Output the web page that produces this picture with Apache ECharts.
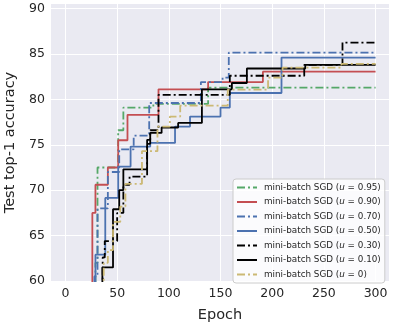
<!DOCTYPE html>
<html>
<head>
<meta charset="utf-8">
<script src="https://cdn.jsdelivr.net/npm/echarts@6/dist/echarts.min.js"></script>
<style>
  html, body { margin:0; padding:0; background:#fff; }
  #chart { width:394px; height:327px; }
</style>
</head>
<body>
<div id="chart"></div>
<script>
// u values, legend order
const uValues = ['0.95', '0.90', '0.70', '0.50', '0.30', '0.10', '0'];
const xTicks = [0, 50, 100, 150, 200, 250, 300];
const yTicks = [60, 65, 70, 75, 80, 85, 90];

// [epoch, best test top-1 accuracy] step points
const accU95 = [[1,40],[29,62],[31,72.5],[51,76.6],[56,79.1],[85,79.5],[138,81.3],[300,81.3]];
const accU90 = [[1,40],[26,67.5],[29,70.6],[41,72.5],[51,75.5],[60,78.3],[90,81.1],[138,81.9],[191,83.05],[300,83.05]];
const accU70 = [[1,40],[28,60.5],[31,68],[41,72],[52,74.5],[66,76],[81,79.6],[131,81.9],[152,82.4],[158,85.15],[300,85.15]];
const accU50 = [[1,40],[29,62.9],[38.5,69.15],[51,72.6],[63,74.8],[82,75.2],[106,77],[120.5,78.1],[150,79.1],[159,80.7],[209,84.6],[300,84.6]];
const accU30 = [[1,40],[36,62.6],[38,64.4],[50,67.5],[56,70.6],[62,71.5],[79,75.1],[82,76.6],[90,80.5],[159,82.6],[231,83.8],[268,86.25],[300,86.25]];
const accU10 = [[1,40],[35.7,61.5],[46,67.9],[52,70],[56,72.3],[79,75.55],[82,76.3],[93,76.9],[109,77.4],[132,81.1],[161,81.8],[175.5,83.4],[232,83.8],[300,83.8]];
const accU0  = [[1,40],[37,62],[41,63.4],[46,66.5],[53,68.2],[58,70.7],[74,74.3],[89,77],[101,78.1],[111,79.3],[157,81.07],[196,82.4],[210,83.5],[267,83.9],[300,83.9]];

const seriesData = [accU95, accU90, accU70, accU50, accU30, accU10, accU0];
const colors = ['#55A868', '#C44E52', '#4C72B0', '#4C72B0', '#000000', '#000000', '#CCB974'];
const dashed = [true, false, true, false, true, false, true];

const names = uValues.map(u => 'mini-batch SGD (u = ' + u + ')');
const dashDot = [8, 3, 2, 3];
const font = 'DejaVu Sans';

let myChart = echarts.init(document.getElementById('chart'), null, { renderer:'canvas' });

let series = seriesData.map((d, i) => ({
    name: names[i],
    type: 'line',
    step: 'end',
    symbol: 'none',
    data: d,
    lineStyle: { color: colors[i], width: 1.8, type: dashed[i] ? dashDot : 'solid' },
    itemStyle: { color: colors[i] },
    animation: false
}));

let option = {
    animation: false,
    backgroundColor: '#fff',
    grid: {
        left: 51,
        top: 4,
        width: 338,
        height: 277,
        outerBoundsMode: 'none',
        containLabel: false,
        show: true,
        backgroundColor: '#EAEAF2',
        borderWidth: 0
    },
    legend: {
        data: names,
        orient: 'vertical',
        left: 233,
        top: 179,
        itemWidth: 20,
        itemHeight: 8,
        itemGap: 5.5,
        padding: [4, 4, 4, 3],
        backgroundColor: 'rgba(255,255,255,0.8)',
        borderColor: '#cccccc',
        borderWidth: 1,
        borderRadius: 3,
        itemStyle: { opacity: 0 },
        lineStyle: { width: 2 },
        formatter: function (name) {
            let v = name.split('= ')[1];
            return '{a|mini-batch SGD (}{i|u}{a| = ' + v + '}';
        },
        textStyle: {
            padding: [0, 0, 0, 2],
            rich: {
                a: { fontFamily: font, fontSize: 8.8, color: '#262626' },
                i: { fontFamily: font, fontSize: 8.8, color: '#262626', fontStyle: 'italic' }
            }
        }
    },
    xAxis: {
        type: 'value',
        min: -14,
        max: 313,
        name: 'Epoch',
        nameLocation: 'middle',
        nameGap: 27,
        nameTextStyle: { fontFamily: font, fontSize: 14.5, color: '#262626' },
        axisLine: { show: false },
        axisTick: { show: false, customValues: xTicks },
        axisLabel: { customValues: xTicks, fontFamily: font, fontSize: 12.5, color: '#262626', margin: 6 },
        splitLine: { show: true, lineStyle: { color: '#ffffff', width: 1 } }
    },
    yAxis: {
        type: 'value',
        min: 60,
        max: 90.5,
        name: 'Test top-1 accuracy',
        nameLocation: 'middle',
        nameGap: 32,
        nameTextStyle: { fontFamily: font, fontSize: 14.5, color: '#262626' },
        axisLine: { show: false },
        axisTick: { show: false, customValues: yTicks },
        axisLabel: { customValues: yTicks, fontFamily: font, fontSize: 12.5, color: '#262626', margin: 6 },
        splitLine: { show: true, lineStyle: { color: '#ffffff', width: 1 } }
    },
    series: series
};
myChart.setOption(option);
</script>
</body>
</html>
